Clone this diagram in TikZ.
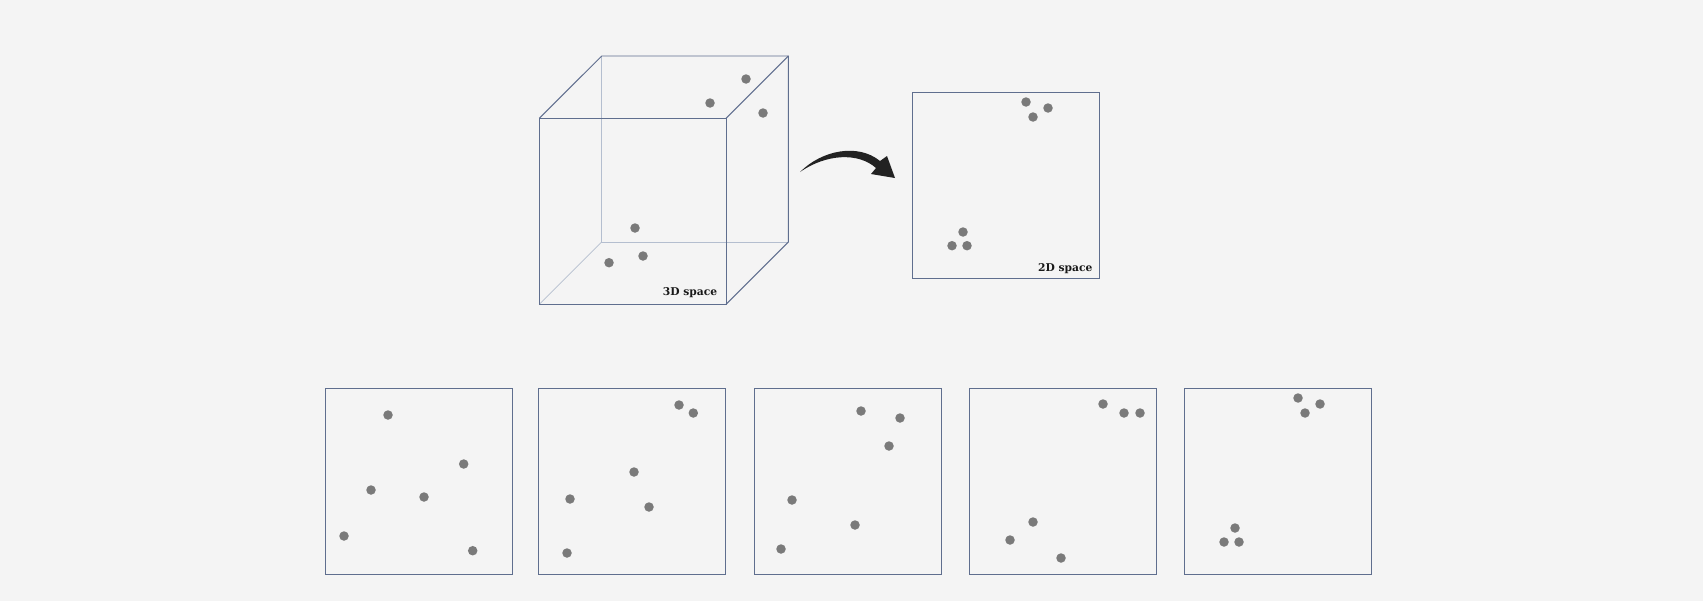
\documentclass[tikz,border=0pt]{standalone}
\usepackage{tikz}
\usepackage{fontspec}
\newfontfamily\labelfont{DejaVu Serif}
\definecolor{bgcol}{HTML}{F4F4F4}
\definecolor{framecol}{HTML}{5F6E8E}
\definecolor{hiddencol}{HTML}{B4BECF}
\definecolor{dotcol}{HTML}{7A7A7A}
\definecolor{arrowcol}{HTML}{222222}
\def\datapt(#1,#2){\fill[dotcol] (#1,#2) circle (0.95mm);}
\tikzset{
	frame/.style={draw=framecol, line width=0.55pt},
	hidden/.style={draw=hiddencol, line width=0.4pt},
	spacelabel/.style={anchor=base east, inner sep=0pt, text=black!90,
		font=\labelfont\fontsize{6.1}{7}\selectfont\bfseries}
}

\begin{document}
\begin{tikzpicture}[x=0.2mm, y=-0.2mm]
		%%%%% START %%%%%
		\useasboundingbox (0,0) rectangle (1703,601);
		\fill[bgcol] (0,0) rectangle (1703,601);
		
		% cube
		\draw[hidden] (601.7,56) -- (601.7,242) -- (788.3,242);
		\draw[hidden] (539.3,304.3) -- (601.7,242);
		\draw[frame] (539.3,118.3) rectangle (726,304.3);
		\draw[frame] (539.3,118.3) -- (601.7,56) -- (788.3,56) -- (788.3,242) -- (726,304.3);
		\draw[frame] (726,118.3) -- (788.3,56);
		
		\datapt(746,79)
		\datapt(710,103)
		\datapt(763,113)
		\datapt(635,228)
		\datapt(643,256)
		\datapt(609,262.7)
		\node[spacelabel] (lbl3d) at (717.5,295.7) {3D space};
		
		% arrow
		\fill[arrowcol] (800,172) .. controls (822,150) and (858,143) .. (880,161)
			-- (887,156) -- (895,178) -- (871,174) -- (876,168)
			.. controls (858,152) and (826,154) .. (800,172) -- cycle;
		
		% 2D projection
		\draw[frame] (912.3,92.7) rectangle (1099.3,278.3);
		\datapt(1026,102)
		\datapt(1048,108)
		\datapt(1033,117)
		\datapt(963,232)
		\datapt(952,245.7)
		\datapt(967,245.7)
		\node[spacelabel] (lbl2d) at (1092.7,271.7) {2D space};
		
		% bottom row
		\draw[frame] (325,388.7) rectangle (512.3,574.3);
		\datapt(388,415)
		\datapt(463.7,464)
		\datapt(371,490)
		\datapt(424,497)
		\datapt(344,536)
		\datapt(472.7,550.7)
		
		\draw[frame] (538.3,388.7) rectangle (725,574.3);
		\datapt(679,405)
		\datapt(693.3,413)
		\datapt(634,472)
		\datapt(570,499)
		\datapt(649,507)
		\datapt(567,553)
		
		\draw[frame] (754,388.7) rectangle (941,574.3);
		\datapt(861,411)
		\datapt(900,418)
		\datapt(889,446)
		\datapt(792,500)
		\datapt(855,525)
		\datapt(781,549)
		
		\draw[frame] (969.3,388.7) rectangle (1156,574.3);
		\datapt(1103,404)
		\datapt(1124,413)
		\datapt(1140,413)
		\datapt(1033,522)
		\datapt(1010,540)
		\datapt(1061,558)
		
		\draw[frame] (1184.3,388.7) rectangle (1371,574.3);
		\datapt(1298,398)
		\datapt(1320,404)
		\datapt(1305,413)
		\datapt(1235,528)
		\datapt(1224,542)
		\datapt(1239,542)
		%%%%% END %%%%%
\end{tikzpicture}
\end{document}
